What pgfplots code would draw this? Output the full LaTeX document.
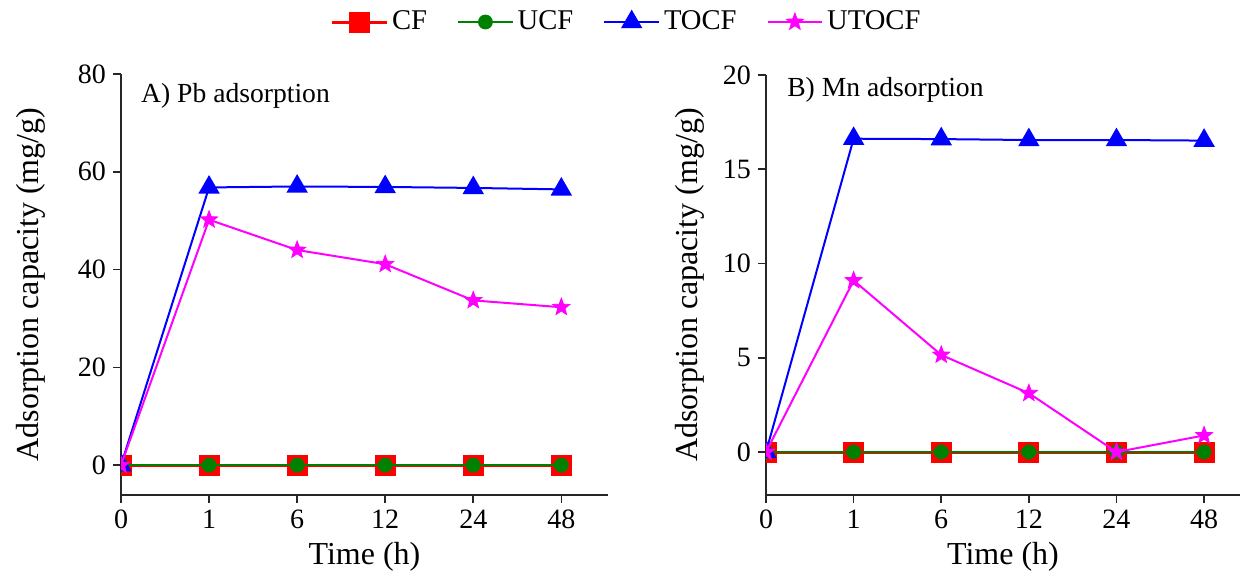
\documentclass[border=0pt]{standalone}
\usepackage{fontspec}
\setmainfont{Liberation Serif}
\usepackage{pgfplots}
\pgfplotsset{compat=1.18}

\definecolor{cf}{RGB}{255,0,0}
\definecolor{ucf}{RGB}{0,128,0}
\definecolor{tocf}{RGB}{0,0,255}
\definecolor{utocf}{RGB}{255,0,255}

\pgfdeclareplotmark{fstar}{%
  \pgfpathmoveto{\pgfpointpolar{90}{\pgfplotmarksize}}%
  \pgfpathlineto{\pgfpointpolar{126}{0.42\pgfplotmarksize}}%
  \pgfpathlineto{\pgfpointpolar{162}{\pgfplotmarksize}}%
  \pgfpathlineto{\pgfpointpolar{198}{0.42\pgfplotmarksize}}%
  \pgfpathlineto{\pgfpointpolar{234}{\pgfplotmarksize}}%
  \pgfpathlineto{\pgfpointpolar{270}{0.42\pgfplotmarksize}}%
  \pgfpathlineto{\pgfpointpolar{306}{\pgfplotmarksize}}%
  \pgfpathlineto{\pgfpointpolar{342}{0.42\pgfplotmarksize}}%
  \pgfpathlineto{\pgfpointpolar{18}{\pgfplotmarksize}}%
  \pgfpathlineto{\pgfpointpolar{54}{0.42\pgfplotmarksize}}%
  \pgfpathclose
  \pgfusepathqfillstroke
}

\pgfplotsset{
  myaxis/.style={
    scale only axis,
    axis lines=left,
    axis line style={-, line width=1pt, black!85},
    xmin=0,
    xtick={0,1,2,3,4,5}, xticklabels={0,1,6,12,24,48},
    tick align=outside, major tick length=4pt,
    tick style={line width=0.8pt, black!85},
    every tick label/.append style={font=\fontsize{14}{16}\selectfont},
    label style={font=\fontsize{16}{18}\selectfont},
    xlabel={Time (h)},
    ylabel={Adsorption capacity (mg/g)},
    /pgf/number format/assume math mode=true,
    clip marker paths=true,
    legend image code/.code={\draw[mark repeat=2,mark phase=2] plot coordinates {(0cm,0cm) (0.48cm,0cm) (0.96cm,0cm)};},
  },
  cfs/.style={color=cf, line width=1.5pt, mark=square*, mark size=4.5pt, mark options={solid, fill=cf}},
  ucfs/.style={color=ucf, line width=1pt, mark=*, mark size=3.2pt, mark options={solid, fill=ucf}},
  tocfs/.style={color=tocf, line width=1pt, mark=triangle*, mark size=5.2pt, mark options={solid, fill=tocf}},
  utocfs/.style={color=utocf, line width=1pt, mark=fstar, mark size=4.5pt, mark options={solid, fill=utocf, line width=0.4pt}},
}

\begin{document}
\begin{tikzpicture}
\useasboundingbox (0,0) rectangle (620.5pt,286.5pt);

\begin{axis}[myaxis,
  at={(60.5pt,39pt)}, anchor=south west,
  width=243.5pt, height=210.5pt,
  xmax=5.53, ymin=-6.1, ymax=80,
  ytick={0,20,40,60,80},
  ylabel style={at={(axis description cs:-0.185,0.5)}, anchor=center},
  legend columns=4,
  legend style={at={(1.040,1.1235)}, anchor=center, draw=none, fill=none,
    font=\fontsize{14.3}{16}\selectfont,
    /tikz/every even column/.append style={column sep=13pt}},
]
\addplot[cfs] coordinates {(0,0) (1,0) (2,0) (3,0) (4,0) (5,0)};
\addlegendentry{CF}
\addplot[ucfs] coordinates {(0,0) (1,0) (2,0) (3,0) (4,0) (5,0)};
\addlegendentry{UCF}
\addplot[tocfs] coordinates {(0,0) (1,56.8) (2,57.0) (3,56.9) (4,56.7) (5,56.4)};
\addlegendentry{TOCF}
\addplot[utocfs] coordinates {(0,0) (1,50.2) (2,44.0) (3,41.1) (4,33.7) (5,32.3)};
\addlegendentry{UTOCF}
\node[anchor=west, font=\fontsize{13.8}{16}\selectfont] at (rel axis cs:0.027,0.947) {A) Pb adsorption};
\end{axis}

\begin{axis}[myaxis,
  at={(383pt,39pt)}, anchor=south west,
  width=237pt, height=210pt,
  xmax=5.41, ymin=-2.28, ymax=20,
  ytick={0,5,10,15,20},
  ylabel style={at={(axis description cs:-0.160,0.5)}, anchor=center},
]
\addplot[cfs] coordinates {(0,0) (1,0) (2,0) (3,0) (4,0) (5,0)};
\addplot[ucfs] coordinates {(0,0) (1,0) (2,0) (3,0) (4,0) (5,0)};
\addplot[tocfs] coordinates {(0,0) (1,16.62) (2,16.6) (3,16.55) (4,16.55) (5,16.52)};
\addplot[utocfs] coordinates {(0,0) (1,9.1) (2,5.15) (3,3.12) (4,0) (5,0.88)};
\node[anchor=west, font=\fontsize{13.8}{16}\selectfont] at (rel axis cs:0.03,0.964) {B) Mn adsorption};
\end{axis}
\end{tikzpicture}
\end{document}
